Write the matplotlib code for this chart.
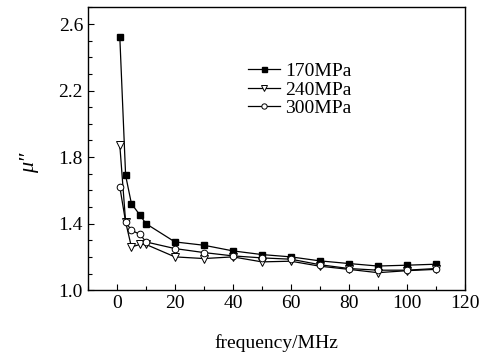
import numpy as np
import matplotlib.pyplot as plt
from matplotlib.ticker import MultipleLocator, FixedLocator

# frequency points (MHz)
freq = [1, 3, 5, 8, 10, 20, 30, 40, 50, 60, 70, 80, 90, 100, 110]

# imaginary permeability for each stress
mu_170 = [2.52, 1.69, 1.52, 1.45, 1.40, 1.29, 1.27, 1.236, 1.214, 1.20, 1.176, 1.16, 1.145, 1.15, 1.156]
mu_240 = [1.87, 1.41, 1.26, 1.275, 1.275, 1.20, 1.19, 1.20, 1.17, 1.174, 1.144, 1.125, 1.105, 1.117, 1.125]
mu_300 = [1.62, 1.41, 1.36, 1.335, 1.29, 1.25, 1.226, 1.206, 1.194, 1.186, 1.153, 1.13, 1.12, 1.12, 1.13]

labels = ['170MPa', '240MPa', '300MPa']
yticks = [1.0, 1.4, 1.8, 2.2, 2.6]
xticks = [0, 20, 40, 60, 80, 100, 120]

plt.rcParams['font.family'] = ['Liberation Serif', 'DejaVu Serif']

fig = plt.figure(figsize=(4.94, 3.56), dpi=100)
ax = fig.add_axes([0.178, 0.185, 0.763, 0.794])

ax.plot(freq, mu_170, '-s', color='black', lw=0.9, ms=4.5, mfc='black', label=labels[0])
ax.plot(freq, mu_240, '-v', color='black', lw=0.9, ms=6, mfc='white', mew=0.7, label=labels[1])
ax.plot(freq, mu_300, '-o', color='black', lw=0.9, ms=4.8, mfc='white', mew=0.7, label=labels[2])

ax.set_xlim(-10, 120)
ax.set_ylim(1.0, 2.7)
ax.xaxis.set_major_locator(FixedLocator(xticks))
ax.xaxis.set_minor_locator(MultipleLocator(10))
ax.yaxis.set_major_locator(FixedLocator(yticks))
ax.yaxis.set_minor_locator(MultipleLocator(0.1))
ax.tick_params(which='both', direction='in', labelsize=14)
ax.tick_params(which='major', length=4, width=0.8)
ax.tick_params(which='minor', length=3, width=0.8)
ax.set_yticklabels([f'{v:.1f}' for v in yticks])

for s in ax.spines.values():
    s.set_linewidth(1.0)

ax.set_xlabel('frequency/MHz', fontsize=14, labelpad=16)
ax.set_ylabel('\u03bc\u2033', fontsize=16, fontstyle='italic')
ax.yaxis.set_label_coords(-0.13, 0.45)

ax.legend(loc='upper left', bbox_to_anchor=(0.4, 0.84), frameon=False, fontsize=14,
          handlelength=1.6, handletextpad=0.3, labelspacing=0.05, borderpad=0,
          markerscale=0.8)

fig.savefig('out.png', dpi=100)
